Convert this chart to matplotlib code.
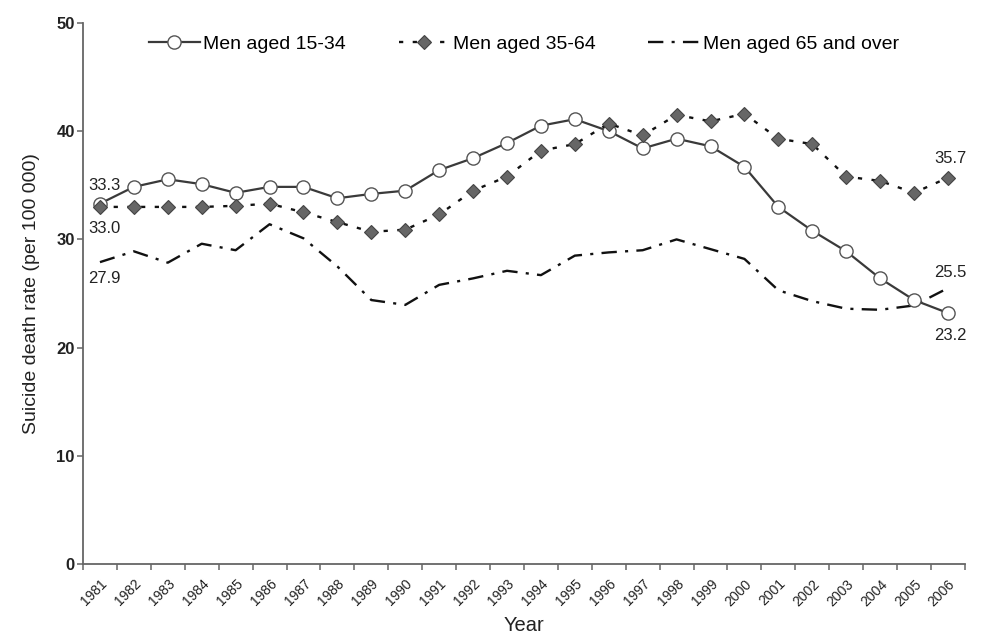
import matplotlib
matplotlib.use("Agg")
import matplotlib.pyplot as plt
import numpy as np

plt.rcParams['font.family'] = ['Liberation Sans', 'DejaVu Sans']

years = [str(y) for y in range(1981, 2007)]
men_15_34 = [33.3, 34.85, 35.55, 35.1, 34.3, 34.85, 34.85, 33.8, 34.2, 34.5,
             36.4, 37.5, 38.9, 40.5, 41.1, 40.0, 38.4, 39.3, 38.6, 36.7,
             33.0, 30.8, 28.9, 26.4, 24.4, 23.2]
men_35_64 = [33.0, 33.0, 33.0, 33.0, 33.1, 33.3, 32.5, 31.6, 30.7, 30.9,
             32.3, 34.5, 35.8, 38.2, 38.8, 40.7, 39.6, 41.5, 40.9, 41.6,
             39.3, 38.8, 35.8, 35.4, 34.3, 35.7]
men_65_over = [27.9, 28.9, 27.85, 29.6, 29.0, 31.4, 30.1, 27.5, 24.4, 23.95,
               25.8, 26.4, 27.1, 26.7, 28.5, 28.8, 29.0, 30.0, 29.1, 28.2,
               25.3, 24.3, 23.6, 23.5, 23.9, 25.5]
labels = ["Men aged 15-34", "Men aged 35-64", "Men aged 65 and over"]
y_ticks = [0, 10, 20, 30, 40, 50]

fig = plt.figure(figsize=(9.81, 6.34), dpi=100)
ax = fig.add_axes([0.0846, 0.11, 0.899, 0.854])

x = np.arange(len(years))

ax.plot(x, men_15_34, color='#3a3a3a', lw=1.6, marker='o', ms=9.5,
        mfc='white', mec='#555555', mew=1.0, label=labels[0], zorder=3)
ax.plot(x, men_35_64, color='#111111', lw=1.7, dashes=(1.8, 4.0),
        marker='D', ms=7.6, mfc='#666666', mec='#444444', mew=0.8,
        label=labels[1], zorder=4)
ax.plot(x, men_65_over, color='#111111', lw=1.7, dashes=(6.5, 3.5, 1.3, 3.5),
        label=labels[2], zorder=2)

# end labels
ann_kw = dict(textcoords='offset points', ha='center', va='center', fontsize=12,
              color='#222222')
ax.annotate(f"{men_15_34[0]:.1f}", (x[0], men_15_34[0]), xytext=(3, 13), **ann_kw)
ax.annotate(f"{men_35_64[0]:.1f}", (x[0], men_35_64[0]), xytext=(3, -15.5), **ann_kw)
ax.annotate(f"{men_65_over[0]:.1f}", (x[0], men_65_over[0]), xytext=(3, -11.5), **ann_kw)
ax.annotate(f"{men_35_64[-1]:.1f}", (x[-1], men_35_64[-1]), xytext=(2, 14), **ann_kw)
ax.annotate(f"{men_65_over[-1]:.1f}", (x[-1], men_65_over[-1]), xytext=(2, 11.5), **ann_kw)
ax.annotate(f"{men_15_34[-1]:.1f}", (x[-1], men_15_34[-1]), xytext=(2, -16.5), **ann_kw)

ax.set_xlim(-0.5, len(years) - 0.5)
ax.set_ylim(0, 50)
ax.set_yticks(y_ticks)
ax.set_yticklabels([str(t) for t in y_ticks], fontsize=12, fontweight='bold',
                   color='#222222')

# category axis: ticks at boundaries, labels at centres
ax.set_xticks(np.arange(len(years) + 1) - 0.5)
ax.set_xticklabels([])
ax.set_xticks(x, minor=True)
ax.set_xticklabels(years, minor=True, rotation=45, ha='right', va='top',
                   rotation_mode='anchor', fontsize=10, color='#222222')
ax.tick_params(axis='x', which='major', direction='out', length=4, width=1.1,
               color='#666666')
ax.tick_params(axis='x', which='minor', length=0, pad=9)
ax.tick_params(axis='y', direction='out', length=4, width=1.1, color='#666666',
               pad=2)

for s in ['top', 'right']:
    ax.spines[s].set_visible(False)
for s in ['left', 'bottom']:
    ax.spines[s].set_color('#666666')
    ax.spines[s].set_linewidth(1.3)

ax.set_ylabel("Suicide death rate (per 100 000)", fontsize=14, color='#222222',
              labelpad=12)
ax.set_xlabel("Year", fontsize=14.5, color='#222222', labelpad=5)

leg = ax.legend(loc='center', bbox_to_anchor=(0.5, 0.961), ncol=3, frameon=False,
                fontsize=14, handlelength=2.6, handletextpad=0.2,
                columnspacing=2.7, borderaxespad=0)

fig.savefig("out.png", dpi=100)
